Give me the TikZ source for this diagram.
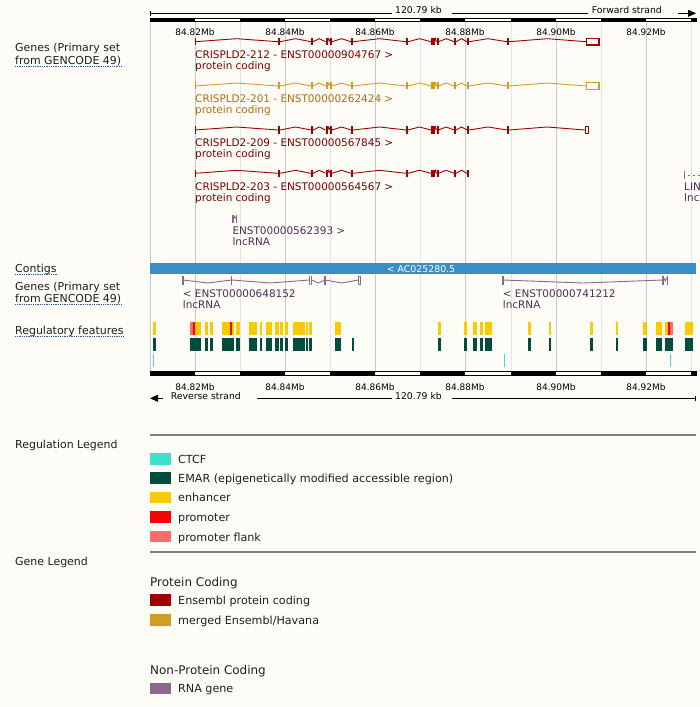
\documentclass[tikz,border=0pt]{standalone}
\usepackage{fontspec}
\setmainfont{DejaVu Sans}
\usepackage{tikz}
\usetikzlibrary{arrows.meta}
\definecolor{PageBg}{RGB}{253,252,247}
\definecolor{EnsRed}{RGB}{160,0,0}
\definecolor{EnsRedTxt}{RGB}{125,0,0}
\definecolor{MrgGold}{RGB}{210,158,32}
\definecolor{MrgGoldTxt}{RGB}{178,108,10}
\definecolor{RnaPurple}{RGB}{139,104,140}
\definecolor{RnaPurpleTxt}{RGB}{84,44,84}
\definecolor{CtgBlue}{RGB}{56,142,201}
\definecolor{RegEnh}{RGB}{250,202,0}
\definecolor{RegEmar}{RGB}{0,76,62}
\definecolor{RegCtcf}{RGB}{64,224,208}
\definecolor{RegProm}{RGB}{255,0,0}
\definecolor{RegFlank}{RGB}{255,106,106}
\definecolor{LinkBlue}{RGB}{40,90,170}

\begin{document}
\begin{tikzpicture}[x=1bp,y=-1bp]
\tikzset{
  txt/.style={inner sep=0pt, anchor=base west, font=\fontsize{10.5}{12}\selectfont},
  side/.style={txt, text=black!88, font=\fontsize{11}{13}\selectfont},
  key/.style={txt, text=black!88, font=\fontsize{11.2}{13}\selectfont},
  head/.style={txt, text=black!88, font=\fontsize{12}{14}\selectfont},
  mb/.style={inner sep=0pt, anchor=base, font=\fontsize{9}{10}\selectfont},
  strand/.style={inner sep=0pt, anchor=base west, font=\fontsize{9.3}{11}\selectfont},
  ul/.style={draw=LinkBlue, densely dotted, line width=0.8bp},
  gmaj/.style={draw=black!21, line width=1bp},
  gmin/.style={draw=black!10, line width=1bp},
  ruler/.style={draw=black, line width=0.9bp},
  sbar/.style={draw=black, line width=0.8bp},
  hat/.style={line width=0.9bp},
  lgline/.style={draw=black!50, line width=1.2bp}
}
% page
\fill[PageBg] (0,0) rectangle (700,707);
\useasboundingbox (0,0) rectangle (700,707);

% grid
\foreach \x in {150,195,285,375,465,556,646}
  \draw[gmaj] (\x,22) -- (\x,371.5);
\foreach \x in {240,330,420,511,601,691}
  \draw[gmin] (\x,22) -- (\x,371.5);

% scale bars
\foreach \yt/\yb in {18.3/21.7, 371.7/375}{
  \draw[sbar, fill=white] (150,\yt) rectangle (696,\yb);
  \foreach \a/\b in {150/195,240/285,330/375,420/465,511/556,601/646,691/696}
    \fill (\a,\yt) rectangle (\b,\yb);
}
\foreach \x/\mbv [count=\i] in {195/82,285/84,375/86,465/88,556/90,646/92}{
  \node[mb] (mbTop\i) at (\x,36) {84.\mbv Mb};
  \node[mb] (mbBot\i) at (\x,390) {84.\mbv Mb};
}

% forward ruler
\coordinate (rtA) at (150,13.3);
\coordinate (rtB) at (392.3,13.3);
\coordinate (rtC) at (452.3,13.3);
\coordinate (rtD) at (588.3,13.3);
\coordinate (rtE) at (678,13.3);
\coordinate (rtF) at (696,13.3);
\node[strand] (kbTop) at (395,14) {120.79 kb};
\node[strand] (fwdTxt) at (591.7,14) {Forward strand};
\draw[ruler] (rtA) -- (rtB);
\draw[ruler] ([yshift=2.6bp]rtA) -- ([yshift=-2.6bp]rtA);
\draw[ruler] (rtC) -- (rtD);
\draw[ruler, -{Triangle[length=8bp,width=7bp]}] (rtE) -- (rtF);

% reverse ruler
\coordinate (rbE) at (163.3,398.3);
\coordinate (rbF) at (150,398.3);
\coordinate (rbA) at (257.3,398.3);
\coordinate (rbB) at (392.3,398.3);
\coordinate (rbC) at (452.3,398.3);
\coordinate (rbD) at (695,398.3);
\node[strand] (revTxt) at (170.7,399) {Reverse strand};
\node[strand] (kbBot) at (395,399) {120.79 kb};
\draw[ruler, -{Triangle[length=8bp,width=7bp]}] (rbE) -- (rbF);
\draw[ruler] (rbA) -- (rbB);
\draw[ruler] (rbC) -- (rbD);
\draw[ruler] ([yshift=2.6bp]rbD) -- ([yshift=-2.6bp]rbD);

% track names
\node[side] (trkGenesA) at (15,52) {Genes (Primary set};
\node[side] (trkGenesB) at (15,64.3) {from GENCODE 49)};
\node[side] (trkCtg) at (15,272.7) {Contigs};
\node[side] (trkGenesC) at (15,290) {Genes (Primary set};
\node[side] (trkGenesD) at (15,302.7) {from GENCODE 49)};
\node[side] (trkReg) at (15,334.3) {Regulatory features};
\foreach \n in {trkGenesB,trkCtg,trkGenesD,trkReg}
  \draw[ul] ([yshift=-1.8bp]\n.base west) -- ([yshift=-1.8bp]\n.base east);

% protein coding transcripts (forward)
\def\pcintr{195/278, 280/311, 313/325.5, 327.5/330, 332/351, 353/406, 408/431, 434.5/436.5, 438.5/454, 456/467}
\def\pcexon{279,312,326.5,331,352,407,432,433.5,437.5,455,468}
\foreach \ty/\tc in {41.7/EnsRed, 86/MrgGold, 130/EnsRed, 173.3/EnsRed}{
  \foreach \a/\b in \pcintr
    \draw[hat, draw=\tc] (\a,\ty) -- ({(\a+\b)/2},{\ty-3}) -- (\b,\ty);
  \foreach \x in \pcexon
    \fill[fill=\tc] ({\x-1},{\ty-3.5}) rectangle ({\x+1},{\ty+3.5});
  \draw[line width=1bp, draw=\tc] (195,{\ty-3.5}) -- (195,{\ty+3.5});
}
\foreach \ty/\tc in {41.7/EnsRed, 86/MrgGold, 130/EnsRed}{
  \draw[hat, draw=\tc] (469,\ty) -- (488,{\ty-3}) -- (507,\ty);
  \fill[fill=\tc] (507,{\ty-3.5}) rectangle (509,{\ty+3.5});
}
\foreach \ty/\tc in {41.7/EnsRed, 86/MrgGold}{
  \draw[hat, draw=\tc] (509,\ty) -- (547.5,{\ty-3}) -- (586,\ty);
  \draw[line width=1.1bp, draw=\tc] (586.5,{\ty-3.3}) rectangle (599,{\ty+3.3});
}
\draw[hat, draw=EnsRed] (509,130) -- (547,127) -- (585,130);
\draw[line width=1bp, draw=EnsRed] (585.7,126.7) rectangle (588.2,133.3);

\node[txt, text=EnsRedTxt] (tx212a) at (195,58.4) {CRISPLD2-212 - ENST00000904767 >};
\node[txt, text=EnsRedTxt] (tx212b) at (195,69.4) {protein coding};
\node[txt, text=MrgGoldTxt] (tx201a) at (195,102.4) {CRISPLD2-201 - ENST00000262424 >};
\node[txt, text=MrgGoldTxt] (tx201b) at (195,113.4) {protein coding};
\node[txt, text=EnsRedTxt] (tx209a) at (195,146.8) {CRISPLD2-209 - ENST00000567845 >};
\node[txt, text=EnsRedTxt] (tx209b) at (195,157.8) {protein coding};
\node[txt, text=EnsRedTxt] (tx203a) at (195,190.8) {CRISPLD2-203 - ENST00000564567 >};
\node[txt, text=EnsRedTxt] (tx203b) at (195,201.8) {protein coding};

% lncRNA (forward)
\fill[RnaPurple] (232.3,214.5) rectangle (234,222.5);
\draw[hat, RnaPurple] (234,218.5) -- (234.8,216.5) -- (235.6,218.5);
\fill[RnaPurple] (235.6,214.5) rectangle (236.7,222.5);
\node[txt, text=RnaPurpleTxt] (tx393a) at (232.3,234) {ENST00000562393 >};
\node[txt, text=RnaPurpleTxt] (tx393b) at (232.3,245) {lncRNA};
\fill[RnaPurple] (683.6,171) rectangle (685.4,179);
\draw[hat, RnaPurple, dash pattern=on 2.5bp off 2.5bp] (687.5,175) -- (700,175);
\node[txt, text=RnaPurpleTxt] (txLinA) at (684,190.8) {LIN};
\node[txt, text=RnaPurpleTxt] (txLinB) at (684,201.8) {lnc};

% contig
\fill[CtgBlue] (150,263.3) rectangle (696,274.3);
\node[inner sep=0pt, anchor=base, text=white, font=\fontsize{9.4}{10}\selectfont] (ctgTxt) at (421,272.6) {< AC025280.5};

% lncRNA (reverse)
\foreach \a/\b in {183/231.7, 231.7/309.3, 311.7/325, 325/358.3}
  \draw[hat, RnaPurple] (\a,280) -- ({(\a+\b)/2},283) -- (\b,280);
\foreach \x in {183,231.7,309.3,311.7,325}
  \draw[line width=1.2bp, RnaPurple] (\x,276) -- (\x,284.5);
\draw[line width=1bp, RnaPurple] (358.3,276.3) rectangle (360.7,284);
\draw[hat, RnaPurple] (503,280) -- (583,283) -- (663,280);
\draw[hat, RnaPurple] (663,276.5) -- (665.3,281) -- (667.6,276.5);
\foreach \x in {503,663,667.6}
  \draw[line width=1.2bp, RnaPurple] (\x,276) -- (\x,284.5);
\node[txt, text=RnaPurpleTxt] (tx152a) at (182.7,297.3) {< ENST00000648152};
\node[txt, text=RnaPurpleTxt] (tx152b) at (182.7,308.3) {lncRNA};
\node[txt, text=RnaPurpleTxt] (tx212Ra) at (502.7,297.3) {< ENST00000741212};
\node[txt, text=RnaPurpleTxt] (tx212Rb) at (502.7,308.3) {lncRNA};

% regulatory features
\foreach \a/\b in {152.7/155.7, 195.3/201, 205/207.7, 210/212.7, 222/230, 232/233.7, 236/239.7, 249/257, 260/262, 266/272, 275/278.7, 280.3/283.3, 284.7/287.7, 293/301.7, 302.3/305, 305.7/308.3, 309.3/312, 335/341, 438/441, 464/466.7, 473/477, 480/483, 485/492, 528/531, 549/551, 590/593, 616/618, 643/647, 656/662, 665/668, 685/692.7}
  \fill[RegEnh] (\a,321.7) rectangle (\b,335);
\foreach \a/\b in {193.3/195.3, 230/232, 668/670}
  \fill[RegProm] (\a,321.7) rectangle (\b,335);
\foreach \a/\b in {190/193.3, 670/673}
  \fill[RegFlank] (\a,321.7) rectangle (\b,335);
\foreach \a/\b in {152.7/155.7, 190/201, 205/207.7, 210/212.7, 222/233.7, 236/239.7, 249/257, 260/262, 266/272, 275/278.7, 280.3/283.3, 284.7/287.7, 293/301.7, 302.3/305, 305.7/308.3, 309.3/312, 335/341, 352/353.7, 438/441, 464/466.7, 473/477, 480/483, 485/492, 528/531, 549/551, 590/593, 616/618, 643/647, 656/662, 665/673, 685/692.7}
  \fill[RegEmar] (\a,337.7) rectangle (\b,351);
\foreach \a/\b in {152.7/153.7, 504/505, 670/671}
  \fill[RegCtcf] (\a,354.3) rectangle (\b,366.7);

% regulation legend
\draw[lgline] (150,435) -- (696,435);
\node[side] (regLeg) at (15,448) {Regulation Legend};
\foreach \yy/\cc/\ktxt [count=\i] in {453.3/RegCtcf/CTCF, 472.3/RegEmar/{EMAR (epigenetically modified accessible region)}, 491.7/RegEnh/enhancer, 511.2/RegProm/promoter, 530.8/RegFlank/promoter flank}{
  \fill[\cc] (150,\yy) rectangle (171,{\yy+11.5});
  \node[key] (regKey\i) at (178,{\yy+10.2}) {\ktxt};
}

% gene legend
\draw[lgline] (150,552) -- (696,552);
\node[side] (geneLeg) at (15,565) {Gene Legend};
\node[head] (pcHead) at (150,586.7) {Protein Coding};
\node[head] (npcHead) at (150,674) {Non-Protein Coding};
\foreach \yy/\cc/\ktxt [count=\i] in {594.3/EnsRed/Ensembl protein coding, 614/MrgGold/merged Ensembl\slash Havana, 682.7/RnaPurple/RNA gene}{
  \fill[\cc] (150,\yy) rectangle (171,{\yy+11.5});
  \node[key] (geneKey\i) at (178,{\yy+10.2}) {\ktxt};
}
\end{tikzpicture}
\end{document}
